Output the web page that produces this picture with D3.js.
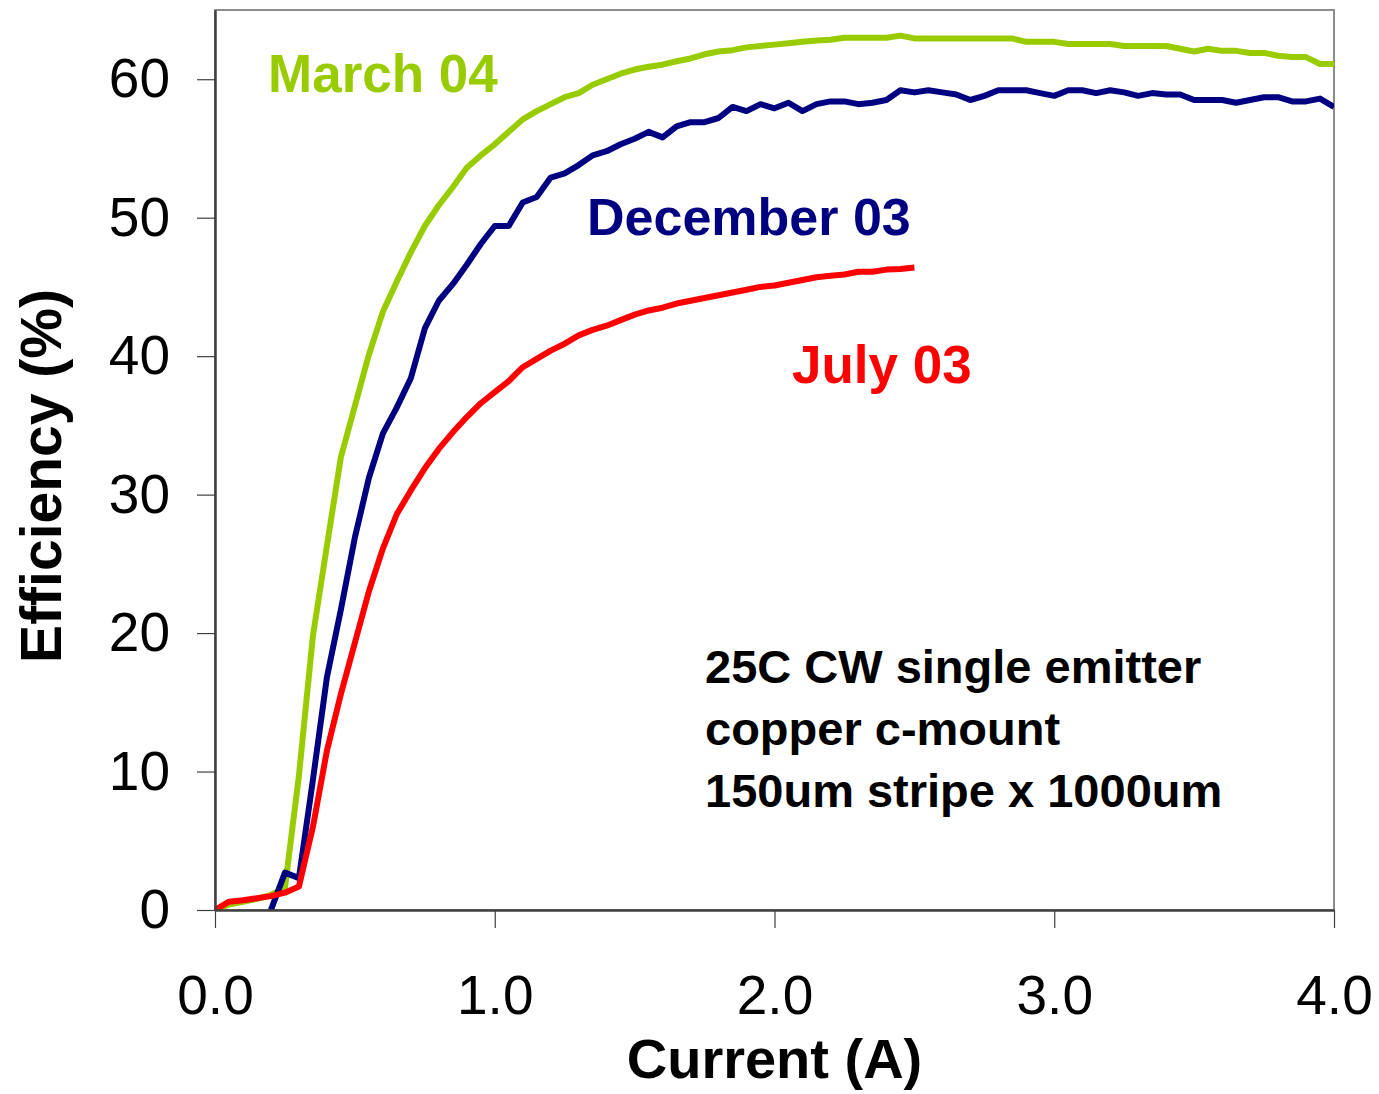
<!DOCTYPE html>
<html>
<head>
<meta charset="utf-8">
<script src="https://cdn.jsdelivr.net/npm/d3@7"></script>
<style>
  body { margin: 0; background: #fff; }
  svg { display: block; font-family: "Liberation Sans", Arial, sans-serif; }
</style>
</head>
<body>
<div id="chart"></div>
<script>
// current (A), sampled every 0.05 A
const currentA = [0.00,0.05,0.10,0.15,0.20,0.25,0.30,0.35,0.40,0.45,
  0.50,0.55,0.60,0.65,0.70,0.75,0.80,0.85,0.90,0.95,
  1.00,1.05,1.10,1.15,1.20,1.25,1.30,1.35,1.40,1.45,
  1.50,1.55,1.60,1.65,1.70,1.75,1.80,1.85,1.90,1.95,
  2.00,2.05,2.10,2.15,2.20,2.25,2.30,2.35,2.40,2.45,
  2.50,2.55,2.60,2.65,2.70,2.75,2.80,2.85,2.90,2.95,
  3.00,3.05,3.10,3.15,3.20,3.25,3.30,3.35,3.40,3.45,
  3.50,3.55,3.60,3.65,3.70,3.75,3.80,3.85,3.90,3.95,4.00]

// efficiency (%)
const march04 = [0,0.4,0.6,0.8,1.1,1.6,9.7,19.8,26.3,32.7,
  36.4,40.1,43.2,45.4,47.5,49.4,50.9,52.2,53.6,54.5,
  55.3,56.2,57.1,57.7,58.2,58.7,59.0,59.6,60.0,60.4,
  60.7,60.9,61.05,61.3,61.5,61.8,62.0,62.1,62.3,62.4,
  62.5,62.6,62.7,62.8,62.85,63.0,63.0,63.0,63.0,63.15,
  62.95,62.95,62.95,62.95,62.95,62.95,62.95,62.95,62.7,62.7,
  62.7,62.55,62.55,62.55,62.55,62.4,62.4,62.4,62.4,62.2,
  62.0,62.2,62.05,62.05,61.9,61.9,61.7,61.6,61.6,61.1,61.1]

const december03 = [null,null,null,null,0,2.7,2.3,9.4,16.8,21.7,
  26.9,31.2,34.4,36.3,38.4,42.0,44.0,45.2,46.6,48.1,
  49.4,49.4,51.1,51.5,52.9,53.2,53.8,54.5,54.8,55.3,
  55.7,56.2,55.8,56.6,56.9,56.9,57.2,58.0,57.7,58.2,
  57.9,58.3,57.7,58.2,58.4,58.4,58.2,58.3,58.5,59.2,
  59.05,59.2,59.05,58.9,58.5,58.8,59.2,59.2,59.2,59.0,
  58.8,59.2,59.2,59.0,59.2,59.05,58.8,59.0,58.9,58.9,
  58.5,58.5,58.5,58.3,58.5,58.7,58.7,58.4,58.4,58.6,58.0]

const july03 = [0,0.6,0.7,0.85,1.0,1.25,1.7,6.0,11.5,15.6,
  19.3,23.0,26.1,28.6,30.3,31.9,33.3,34.5,35.6,36.6,
  37.4,38.2,39.2,39.8,40.4,40.9,41.5,41.9,42.2,42.6,
  43.0,43.3,43.5,43.8,44.0,44.2,44.4,44.6,44.8,45.0,
  45.1,45.3,45.5,45.7,45.8,45.9,46.1,46.1,46.25,46.3,46.4]

const seriesNames = ['March 04', 'December 03', 'July 03']
const seriesColors = ['#99cc00', '#000080', '#ff0000']
const seriesValues = [march04, december03, july03]

const xTicks = [0, 1, 2, 3, 4]
const yTicks = [0, 10, 20, 30, 40, 50, 60]

const noteLines = ['25C CW single emitter', 'copper c-mount', '150um stripe x 1000um']

// chart setting
const chart = {
  width: 1379,
  height: 1094,
  left: 215,
  top: 10,
  right: 45,
  bottom: 184
}
const innerW = chart.width - chart.left - chart.right
const innerH = chart.height - chart.top - chart.bottom

const xScale = d3.scaleLinear().domain([0, 4]).range([0, innerW])
const yScale = d3.scaleLinear().domain([0, 65]).range([innerH, 0])

const svg = d3.select('#chart')
  .append('svg')
    .attr('width', chart.width)
    .attr('height', chart.height)

const g = svg.append('g')
  .attr('transform', `translate(${chart.left},${chart.top})`)

// frame (top / right in grey)
g.append('rect')
  .attr('width', innerW)
  .attr('height', innerH)
  .attr('fill', 'none')
  .attr('stroke', '#8c8c8c')
  .attr('stroke-width', 2)

g.append('defs').append('clipPath').attr('id', 'plotclip')
  .append('rect').attr('width', innerW).attr('height', innerH)

const line = d3.line()
  .defined(d => d[1] != null)
  .x(d => xScale(d[0]))
  .y(d => yScale(d[1]))

seriesValues.forEach((vals, i) => {
  const pts = vals.map((v, j) => [currentA[j], v])
  g.append('path')
    .datum(pts)
    .attr('clip-path', 'url(#plotclip)')
    .attr('fill', 'none')
    .attr('stroke', seriesColors[i])
    .attr('stroke-width', 6)
    .attr('stroke-linejoin', 'round')
    .attr('d', line)
})

// axes
const xAxis = g.append('g')
  .attr('transform', `translate(0,${innerH})`)
  .call(d3.axisBottom(xScale).tickValues(xTicks).tickFormat(d3.format('.1f'))
    .tickSize(18).tickSizeOuter(0).tickPadding(47))

const yAxis = g.append('g')
  .call(d3.axisLeft(yScale).tickValues(yTicks).tickFormat(d3.format('d'))
    .tickSize(18).tickSizeOuter(0).tickPadding(27))

;[xAxis, yAxis].forEach(ax => {
  ax.select('.domain').attr('stroke', '#404040').attr('stroke-width', 2.5)
  ax.selectAll('.tick line').attr('stroke', '#404040').attr('stroke-width', 1.2)
  ax.selectAll('.tick text')
    .attr('fill', '#000')
    .style('font-size', '55px')
    .style('font-family', '"Liberation Sans", Arial, sans-serif')
})

// axis titles
svg.append('text')
  .attr('x', chart.left + xScale(2))
  .attr('y', 1078)
  .attr('text-anchor', 'middle')
  .style('font-size', '56px')
  .style('font-weight', 'bold')
  .text('Current (A)')

svg.append('text')
  .attr('transform', 'translate(61,476) rotate(-90)')
  .attr('text-anchor', 'middle')
  .style('font-size', '57px')
  .style('font-weight', 'bold')
  .text('Efficiency (%)')

// series labels
const labelPos = [[268, 92], [587, 235], [792, 383]]
seriesNames.forEach((name, i) => {
  svg.append('text')
    .attr('x', labelPos[i][0])
    .attr('y', labelPos[i][1])
    .attr('fill', seriesColors[i])
    .style('font-size', i === 1 ? '52px' : '53px')
    .style('font-weight', 'bold')
    .text(name)
})

// note
svg.append('text')
  .attr('x', 705)
  .attr('y', 683)
  .style('font-size', '47px')
  .style('font-weight', 'bold')
  .selectAll('tspan')
  .data(noteLines)
  .join('tspan')
    .attr('x', 705)
    .attr('dy', (d, i) => i === 0 ? 0 : 62)
    .text(d => d)
</script>
</body>
</html>
